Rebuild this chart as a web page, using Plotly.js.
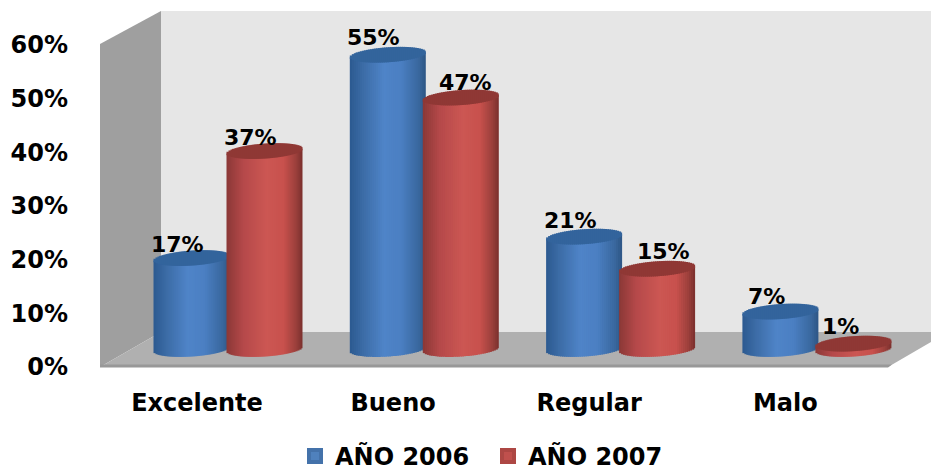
<!DOCTYPE html>
<html><head><meta charset="utf-8">
<script src="https://cdn.plot.ly/plotly-3.0.1.min.js"></script>
<style>html,body{margin:0;padding:0;background:#fff}</style></head>
<body><div id="chart" style="width:931px;height:472px"></div>
<script>
var categories = ["Excelente", "Bueno", "Regular", "Malo"];
var seriesNames = ["AÑO 2006", "AÑO 2007"];
var values2006 = [17, 55, 21, 7];
var values2007 = [37, 47, 15, 1];
var yTicks = [0, 10, 20, 30, 40, 50, 60];

var W = 931, H = 472, FONT = '"DejaVu Sans", sans-serif';
var PX_X = 196.3, PX_Y = 5.35, X0 = 228, Y0 = 349;
var cylW = 76 / PX_X, half = 36.5 / PX_X, capH = 7.5 / PX_Y, tilt = 2.5 / PX_Y, N = 38;

function hex(c){return [parseInt(c.substr(1,2),16),parseInt(c.substr(3,2),16),parseInt(c.substr(5,2),16)];}
function ramp(stops,t){
  for(var i=1;i<stops.length;i++){ if(t<=stops[i][0]){
    var a=stops[i-1],b=stops[i],f=(t-a[0])/(b[0]-a[0]),ca=hex(a[1]),cb=hex(b[1]);
    return 'rgb('+ca.map(function(v,k){return Math.round(v+(cb[k]-v)*f);}).join(',')+')';
  }}
  return stops[stops.length-1][1];
}
var blueStops=[[-1,'#2c5a90'],[-0.65,'#3c6ca6'],[-0.1,'#4f84c8'],[0.35,'#4b7fc2'],[0.8,'#3a689f'],[1,'#2d5585']];
var redStops=[[-1,'#8a3836'],[-0.55,'#b5494a'],[0.05,'#cc5753'],[0.5,'#c8514d'],[0.82,'#9c403c'],[1,'#7a302d']];

var xs = categories.map(function(c,i){return i;});
var traces = [{x:[0],y:[0],xaxis:'x',yaxis:'y',type:'scatter',mode:'none',showlegend:false,hoverinfo:'skip'}];

function addSeries(name,values,center,stops,solid,edge,cap){
  traces.push({type:'bar',name:name,x:xs,y:values,xaxis:'x2',yaxis:'y2',width:cylW*0.8,offset:center-cylW*0.4,
    marker:{color:solid,line:{color:edge,width:4}},hoverinfo:'skip',showlegend:true});
  var stripe=cylW/N, over=1/PX_X, i, t, s, off, dy;
  function w(k){return k<N-1?stripe+over:stripe;}
  for(i=0;i<N;i++){
    t=(i+0.5)/N*2-1; s=Math.sqrt(1-t*t); off=center-cylW/2+i*stripe; dy=tilt*t;
    traces.push({type:'bar',x:xs,xaxis:'x2',yaxis:'y2',width:w(i),offset:off,showlegend:false,hoverinfo:'skip',
      y:(function(s){return values.map(function(v){return v+capH*s;});})(s),
      base:(function(s,dy){return values.map(function(){return dy-capH*s;});})(s,dy),
      marker:{color:ramp(stops,t),line:{width:0}}});
  }
  for(i=0;i<N;i++){
    t=(i+0.5)/N*2-1; s=Math.sqrt(1-t*t); off=center-cylW/2+i*stripe; dy=tilt*t;
    traces.push({type:'bar',x:xs,xaxis:'x2',yaxis:'y2',width:w(i),offset:off,showlegend:false,hoverinfo:'skip',
      y:(function(s){return values.map(function(){return 2*capH*s;});})(s),
      base:(function(s,dy){return values.map(function(v){return v+dy-capH*s;});})(s,dy),
      marker:{color:cap,line:{width:0}}});
  }
}
addSeries(seriesNames[0],values2006,-half,blueStops,'#4f81bd','#4472aa','#33649c');
addSeries(seriesNames[1],values2007,half,redStops,'#c0504d','#ad4744','#8f3835');

function poly(pts,color){
  return {type:'path',xref:'paper',yref:'paper',layer:'below',fillcolor:color,line:{width:0},
    path:pts.map(function(p,i){return (i?'L':'M')+(p[0]/W)+','+(1-p[1]/H);}).join(' ')+' Z'};
}
var shapes=[
  poly([[161,11],[931,11],[931,342],[161,332]],'#e6e6e6'),
  poly([[100,44],[161,11],[161,332],[100,367]],'#9f9f9f'),
  poly([[100,367],[161,332],[931,332],[931,342],[888,367]],'#b0b0b0'),
  poly([[100,364.5],[892,364.5],[888,367.5],[100,367.5]],'#989898')
];

var annotations=[];
function addLabels(values,center,shifts,lifts){
  values.forEach(function(v,i){
    annotations.push({xref:'x2',yref:'y2',x:i+center,y:v,text:v+'%',showarrow:false,xanchor:'center',yanchor:'middle',
      xshift:shifts[i],yshift:lifts[i],font:{family:FONT,size:22,color:'#000',weight:700}});
  });
}
addLabels(values2006,-half,[-14,-14,-14,-14],[14,17,16,15]);
addLabels(values2007,half,[-14,5,6,-13],[14,15,17,17]);

var axisFont={family:FONT,size:24,color:'#000',weight:700};
Plotly.newPlot('chart',traces,{
  width:W,height:H,margin:{l:0,r:0,t:0,b:0,autoexpand:false},paper_bgcolor:'#fff',plot_bgcolor:'rgba(0,0,0,0)',
  barmode:'overlay',showlegend:true,shapes:shapes,annotations:annotations,font:{family:FONT},
  legend:{orientation:'h',x:295/W,xanchor:'left',y:1-(434/H),yanchor:'top',font:{family:FONT,size:24,color:'#000',weight:700},
    bgcolor:'rgba(0,0,0,0)',itemclick:false,tracegroupgap:0,itemwidth:30,entrywidth:148,entrywidthmode:'pixels'},
  xaxis:{range:[-197/196.1,(W-197)/196.1],tickmode:'array',tickvals:xs,ticktext:categories,anchor:'free',position:(H-367)/H,
    showgrid:false,zeroline:false,showline:false,ticks:'',ticklabelstandoff:19,tickfont:axisFont,fixedrange:true},
  yaxis:{range:[(367-H)/5.367,367/5.367],tickmode:'array',tickvals:yTicks,ticktext:yTicks.map(function(v){return v+'%';}),anchor:'free',position:100/W,
    showgrid:false,zeroline:false,showline:false,ticks:'',ticklabelstandoff:32,tickfont:axisFont,fixedrange:true},
  xaxis2:{range:[-X0/PX_X,(W-X0)/PX_X],overlaying:'x',anchor:'y2',visible:false,fixedrange:true},
  yaxis2:{range:[(Y0-H)/PX_Y,Y0/PX_Y],overlaying:'y',anchor:'x2',visible:false,fixedrange:true}
},{displayModeBar:false,staticPlot:true});
</script></body></html>
